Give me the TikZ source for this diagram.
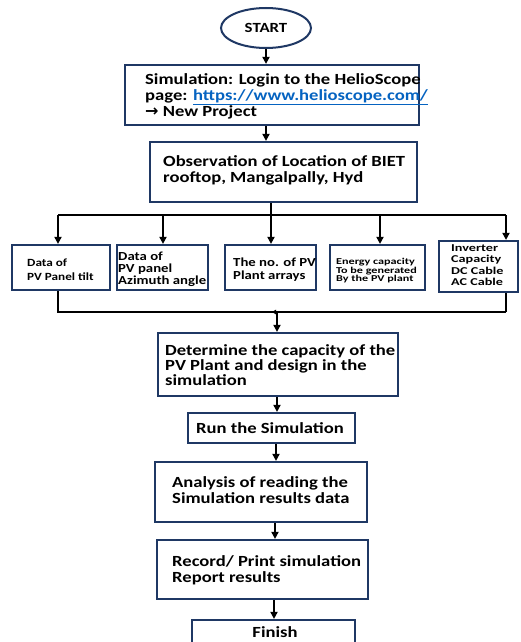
\documentclass[tikz,border=0pt]{standalone}
\usepackage{fontspec}
\setmainfont{Carlito}[FakeStretch=1.2]
\newfontfamily\widefont{Carlito}[FakeStretch=1.35]
\newfontfamily\arrowfont{DejaVu Sans}
\usetikzlibrary{arrows.meta,shapes.geometric}
\definecolor{navy}{RGB}{31,56,100}
\definecolor{linkblue}{RGB}{5,99,193}
\begin{document}
\begin{tikzpicture}[x=1pt,y=-1pt,
  box/.style={draw=navy, line width=2.2pt, rectangle, inner sep=0pt, fill=white},
  txt/.style={anchor=west, align=left, inner sep=0pt, font=\bfseries\fontsize{15.5}{16}\selectfont},
  ctxt/.style={align=center, inner sep=0pt, font=\bfseries\fontsize{15.5}{16}\selectfont},
  arr/.style={line width=2pt, -{Triangle[length=7pt,width=7pt]}},
  ln/.style={line width=2pt}]
\useasboundingbox (0,0) rectangle (520,642);
\fill[white] (0,0) rectangle (520,642);
\begin{scope}
\clip (0,0) rectangle (520,642);
% START
\node[draw=navy, line width=2pt, ellipse, minimum width=90pt, minimum height=40pt, inner sep=0pt,
  font=\bfseries\fontsize{14}{14}\selectfont] (start) at (266,28) {START};
% main boxes
\node[box, minimum width=294pt, minimum height=60pt] (b1) at (272,95) {};
\node[box, minimum width=267pt, minimum height=60pt] (b2) at (283.5,172) {};
\node[box, minimum width=98pt, minimum height=45pt] (bA) at (61,267.5) {};
\node[box, minimum width=91pt, minimum height=45pt] (bB) at (162.5,267.5) {};
\node[box, minimum width=91pt, minimum height=45pt] (bC) at (270.5,267.5) {};
\node[box, minimum width=95pt, minimum height=45pt] (bD) at (377.5,267.5) {};
\node[box, minimum width=79pt, minimum height=51pt] (bE) at (478.5,266.5) {};
\node[box, minimum width=240pt, minimum height=63pt] (b3) at (278,364.5) {};
\node[box, minimum width=167pt, minimum height=30pt] (b4) at (271.5,428) {};
\node[box, minimum width=212pt, minimum height=60pt] (b5) at (261,492) {};
\node[box, minimum width=211pt, minimum height=59pt] (b6) at (262.5,569.5) {};
\node[box, minimum width=163pt, minimum height=40pt] (b7) at (273.5,640) {};
% texts
\node[txt] (t1) at (145,96) {Simulation: Login to the HelioScope\\
page: \textcolor{linkblue}{\underline{https://www.helioscope.com/}}\\
{\arrowfont\bfseries\fontsize{16}{16}\selectfont →} New Project};
\node[txt] (t2) at (163,170) {Observation of Location of BIET\\rooftop, Mangalpally, Hyd};
\node[txt, font=\bfseries\fontsize{11}{14}\selectfont] (tA) at (27,270) {Data of\\PV Panel tilt};
\node[txt, font=\bfseries\fontsize{12.3}{12}\selectfont] (tB) at (118,269) {Data of\\PV panel\\Azimuth angle};
\node[txt, font=\bfseries\fontsize{12.3}{13}\selectfont] (tC) at (233,270) {The no. of PV\\Plant arrays};
\node[txt, font=\widefont\bfseries\fontsize{9}{8.5}\selectfont] (tD) at (336,271) {Energy capacity\\To be generated\\By the PV plant};
\node[txt, font=\widefont\bfseries\fontsize{10.5}{11.5}\selectfont] (tE) at (451,265) {Inverter\\Capacity\\DC Cable\\AC Cable};
\node[txt, font=\bfseries\fontsize{15.5}{15}\selectfont] (t3) at (165,365) {Determine the capacity of the\\PV Plant and design in the\\simulation};
\node[ctxt] (t4) at (270,428) {Run the Simulation};
\node[txt] (t5) at (172,490) {Analysis of reading the\\Simulation results data};
\node[txt] (t6) at (172,570) {Record/ Print simulation\\Report results};
\node[ctxt] (t7) at (275,632) {Finish};
% connectors
\draw[arr] (start.south) -- (start.south |- b1.north);
\draw[arr] (start.south |- b1.south) -- (start.south |- b2.north);
\coordinate (j0) at (271,215);
\coordinate (hA) at (58,215);
\coordinate (hB) at (163,215);
\coordinate (hC) at (271,215);
\coordinate (hD) at (380,215);
\coordinate (hE) at (506,215);
\draw[ln] (j0 |- b2.south) -- (j0);
\draw[ln] (hA) -- (hE);
\draw[arr] (hA) -- (hA |- bA.north);
\draw[arr] (hB) -- (hB |- bB.north);
\draw[arr] (hC) -- (hC |- bC.north);
\draw[arr] (hD) -- (hD |- bD.north);
\draw[arr] (hE) -- (hE |- bE.north);
\coordinate (lA) at (58,312);
\coordinate (lE) at (506,312);
\coordinate (lM) at (277,312);
\draw[ln] (hA |- bA.south) -- (lA) -- (lM);
\draw[ln] (hE |- bE.south) -- (lE);
\draw[line width=2pt, -{Triangle[length=4pt,width=4.5pt]}] (lE) -- (272,312);
\draw[arr] (lM) -- (lM |- b3.north);
\draw[arr] (b3.south -| lM) -- (lM |- b4.north);
\draw[arr] ([xshift=4.5pt]b4.south) -- ([xshift=4.5pt]b4.south |- b5.north);
\draw[arr] ([xshift=14pt]b5.south) -- ([xshift=14pt]b5.south |- b6.north);
\draw[arr] ([xshift=11.5pt]b6.south) -- ([xshift=11.5pt]b6.south |- b7.north);
\end{scope}
\end{tikzpicture}
\end{document}
